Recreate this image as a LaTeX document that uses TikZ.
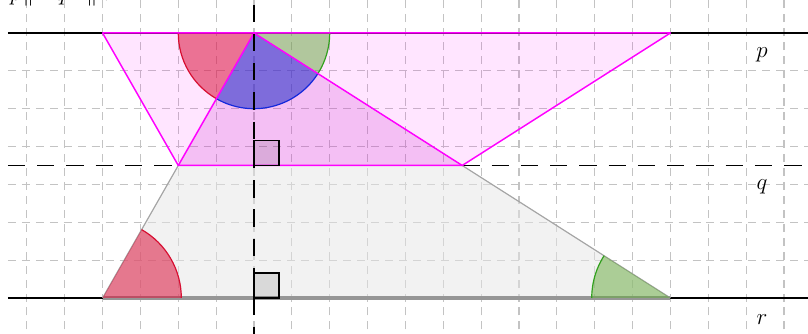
\documentclass[tikz,border=0pt]{standalone}
\usetikzlibrary{calc}
\definecolor{gridc}{RGB}{195,195,195}
\definecolor{magc}{RGB}{255,0,255}
\definecolor{triC}{RGB}{200,40,200}
\definecolor{redf}{RGB}{220,20,60}
\definecolor{rede}{RGB}{215,15,50}
\definecolor{bluef}{RGB}{30,40,200}
\definecolor{bluee}{RGB}{20,40,220}
\definecolor{greenf}{RGB}{100,170,60}
\definecolor{greene}{RGB}{50,160,30}
\definecolor{grayedge}{RGB}{165,165,165}
\definecolor{graybase}{RGB}{150,150,150}
\tikzset{
  gridline/.style={gridc, line width=0.85pt, dash pattern=on 6pt off 4.5pt},
  mainline/.style={black, line width=1.2pt},
  dashline/.style={black, line width=1.2pt, dash pattern=on 13pt off 9pt},
  pinkedge/.style={magc, line width=1.1pt, line join=round},
  rightmark/.style={draw=black, line width=0.9pt, fill=black, fill opacity=0.1},
  lbl/.style={font=\fontsize{17}{20}\selectfont, inner sep=0pt},
}
\begin{document}
\begin{tikzpicture}
\useasboundingbox (-6.709,-0.951) rectangle (14.633,7.871);
\begin{scope}
\clip (-6.709,-0.951) rectangle (14.633,7.871);
% grid
\foreach \x in {-6,...,14} \draw[gridline] (\x,-1.2) -- (\x,8.2);
\foreach \y in {-1,...,7} \draw[gridline] (-6.5,\y) -- (14.8,\y);
% points
\coordinate (A) at (-4,0);
\coordinate (B) at (11,0);
\coordinate (C) at (5.5,3.5);
\coordinate (D) at (-2,3.5);
\coordinate (E) at (-4,7);
\coordinate (F) at (11,7);
\coordinate (O) at (0,7);
\coordinate (H) at (0,3.5);
\coordinate (K) at (0,0);
\coordinate (pL) at (-6.5,7);
\coordinate (pR) at (14.8,7);
\coordinate (qL) at (-6.5,3.5);
\coordinate (qR) at (14.8,3.5);
\coordinate (rL) at (-6.5,0);
\coordinate (rR) at (14.8,0);
\coordinate (vT) at (0,7.75);
\coordinate (vB) at (0,-1.2);
% parallel lines
\draw[mainline] (pL) -- (pR);
\draw[mainline] (rL) -- (rR);
\draw[dashline] (qL) -- (D);
\draw[dashline] (C) -- (qR);
% lower trapezoid
\fill[black!10, fill opacity=0.5] (A) -- (B) -- (C) -- (D) -- cycle;
\draw[grayedge, line width=0.9pt] (A) -- (D) (B) -- (C);
\draw[graybase, line width=2.6pt] (A) -- (B);
% upper trapezoid and triangle
\fill[magc, fill opacity=0.1] (E) -- (F) -- (C) -- (D) -- cycle;
\fill[triC, fill opacity=0.2] (O) -- (D) -- (C) -- cycle;
% sectors at apex
\fill[redf, fill opacity=0.55] (O) -- ++(180:2) arc[start angle=180, end angle=240.255, radius=2] -- cycle;
\fill[bluef, fill opacity=0.55] (O) -- ++(240.255:2) arc[start angle=240.255, end angle=327.53, radius=2] -- cycle;
\fill[greenf, fill opacity=0.5] (O) -- ++(327.53:2) arc[start angle=327.53, end angle=360, radius=2] -- cycle;
\draw[rede, line width=0.9pt] (O) ++(180:2) arc[start angle=180, end angle=240.255, radius=2];
\draw[bluee, line width=0.9pt] (O) ++(240.255:2) arc[start angle=240.255, end angle=327.53, radius=2];
\draw[greene, line width=0.9pt] (O) ++(327.53:2) arc[start angle=327.53, end angle=360, radius=2];
% sectors at base
\fill[redf, fill opacity=0.55] (A) -- ++(0:2.08) arc[start angle=0, end angle=60.255, radius=2.08] -- cycle;
\draw[rede, line width=0.9pt] (A) ++(0:2.08) arc[start angle=0, end angle=60.255, radius=2.08];
\fill[greenf, fill opacity=0.5] (B) -- ++(147.47:2.08) arc[start angle=147.47, end angle=180, radius=2.08] -- cycle;
\draw[greene, line width=0.9pt] (B) ++(147.47:2.08) arc[start angle=147.47, end angle=180, radius=2.08];
% magenta edges
\draw[pinkedge] (E) -- (F) -- (C) -- (D) -- cycle;
\draw[pinkedge] (D) -- (O) -- (C);
% right angle marks
\draw[rightmark] (H) rectangle ++(0.66,0.66);
\draw[rightmark] (K) rectangle ++(0.66,0.66);
% vertical axis
\draw[dashline] (vT) -- (vB);
% title (cut off at the top edge, as in the reference)
\node[inner sep=0pt, anchor=base west, font=\fontsize{16}{19}\selectfont] (title) at (-6.45,7.86) {$p\mkern1mu{\parallel}\hspace{16pt}q\hspace{15pt}{\parallel}\mkern5mu r$};
\end{scope}
% labels
\node[lbl] (lp) at (13.42,6.43) {$p$};
\node[lbl] (lq) at (13.42,2.93) {$q$};
\node[lbl] (lr) at (13.42,-0.57) {$r$};
\end{tikzpicture}
\end{document}
